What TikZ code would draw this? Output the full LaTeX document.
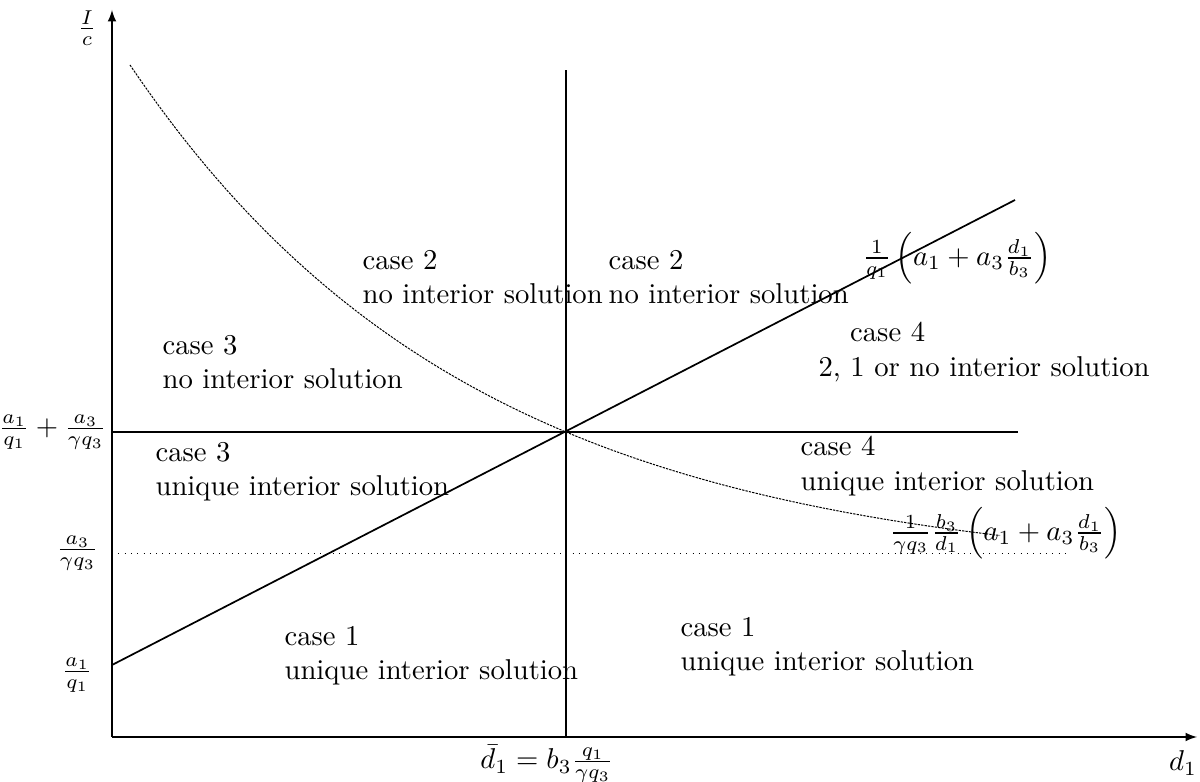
\documentclass[tikz,border=0pt]{standalone}
\usepackage{amsmath}
\begin{document}
\begin{tikzpicture}[x=0.01225cm, y=0.01225cm, region/.style={anchor=west, align=left, inner sep=0pt}]
	\useasboundingbox (0,0) rectangle (1200,782);
	
	\draw[-latex] (112,45) -- (112,772);
	\draw[-latex] (112,45) -- (1197,45);
	\node (Ic) at (87,754){$\frac{I}{c}$};
	\node (d1) at (1183,19){$d_1$};
	
	\draw (566,45) -- (566,712);
	\draw[thick] (112,350) -- (1018,350);
	\draw[very thin, dotted] (112,229) -- (1065,229);
	\draw[semithick] (112,117) -- (1015,582);
	\draw[line width=0.35pt, dash pattern=on 0.8pt off 0.4pt] plot[domain=130:1000, samples=90] (\x, {205.4+511.6*exp(-(\x-130)/345)});
	
	\node[left, inner sep=0pt] (sum) at (107,350){$\frac{a_1}{q_1} + \frac{a_3}{\gamma q_3}$};
	\node[left, inner sep=0pt] (a3) at (99,229){$\frac{a_3}{\gamma q_3}$};
	\node[left, inner sep=0pt] (a1) at (93,107){$\frac{a_1}{q_1}$};
	\node[below] (dbar) at (547,47){$\bar{d}_1 = b_3\frac{q_1}{\gamma q_3}$};
	
	\node[right, inner sep=0pt] (line) at (862,524){$\frac{1}{q_1}\left(a_1 + a_3\frac{d_1}{b_3}\right)$};
	\node[right, inner sep=0pt] (curve) at (889,249){$\frac{1}{\gamma q_3}\frac{b_3}{d_1}\left(a_1 + a_3\frac{d_1}{b_3}\right)$};
	
	\node[region] (c2a) at (362,505){case 2\\no interior solution};
	\node[region] (c2b) at (608,505){case 2\\no interior solution};
	\node[region] (c3a) at (162,420){case 3\\no interior solution};
	\node[region] (c4a) at (818,430){\hspace*{11pt}case 4\\2, 1 or no interior solution};
	\node[region] (c4b) at (800,316){case 4\\unique interior solution};
	\node[region] (c3b) at (155,310){case 3\\unique interior solution};
	\node[region] (c1a) at (284,126){case 1\\unique interior solution};
	\node[region] (c1b) at (680,135){case 1\\unique interior solution};
\end{tikzpicture}
\end{document}
